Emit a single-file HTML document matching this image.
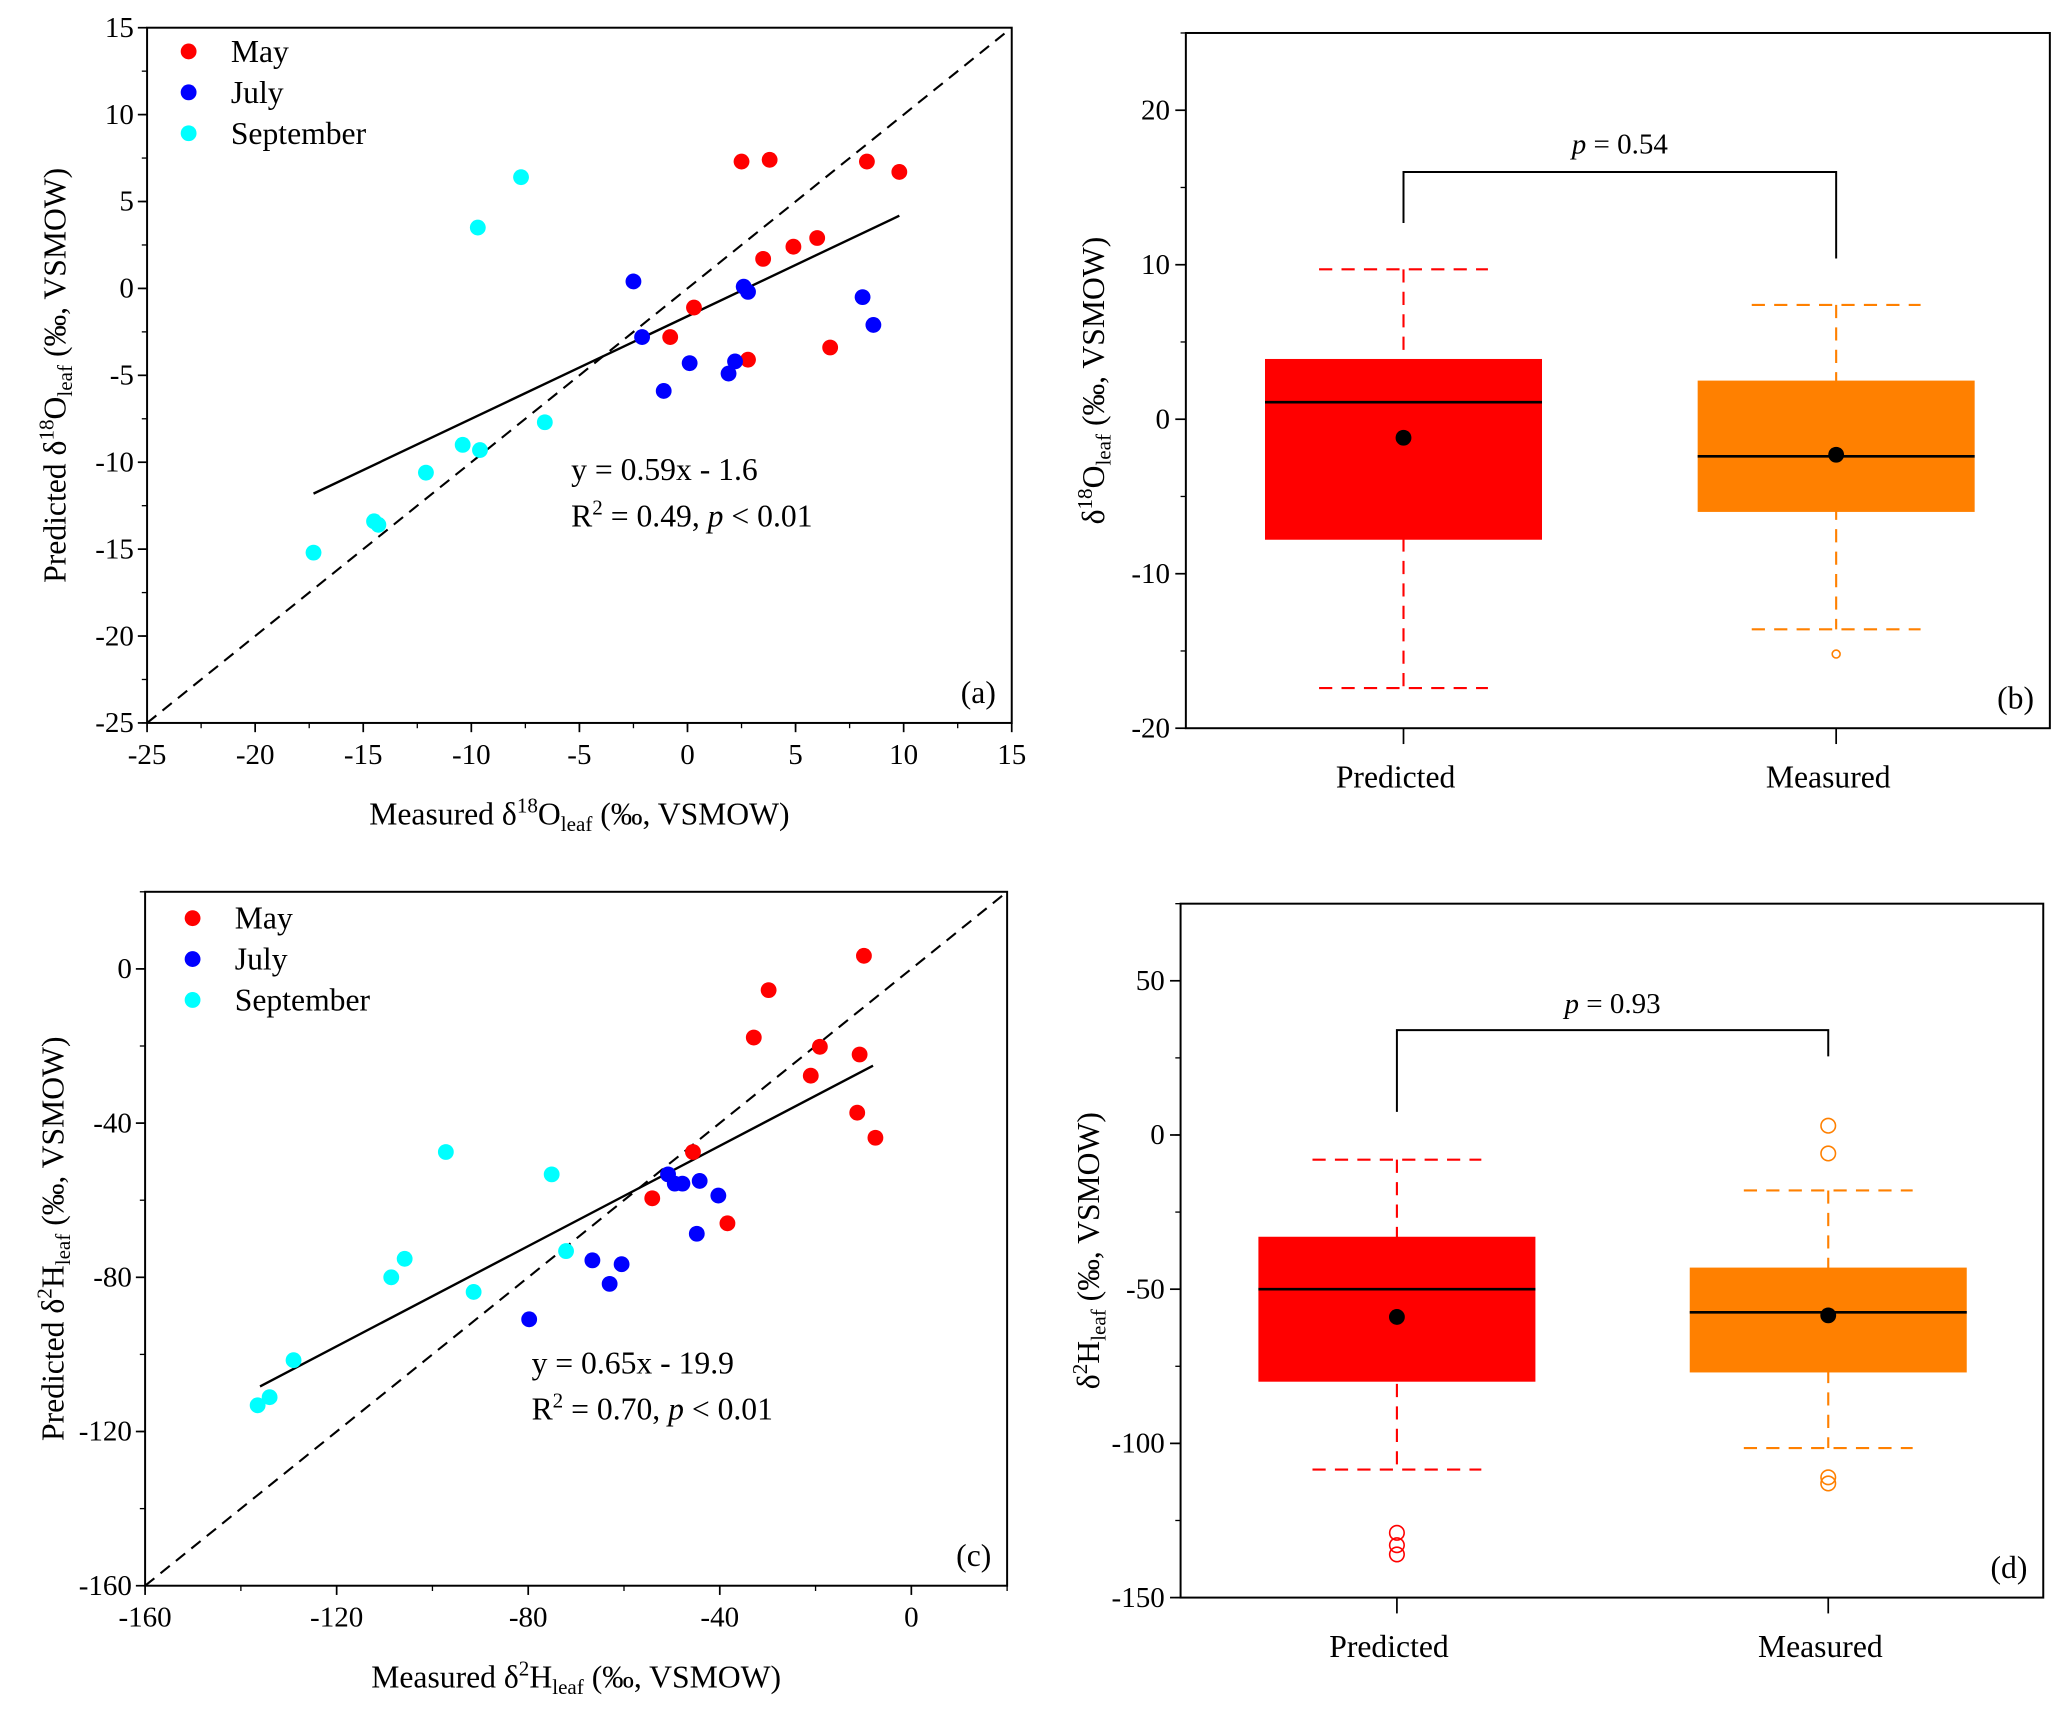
<!DOCTYPE html>
<html><head><meta charset="utf-8"><style>
html,body{margin:0;padding:0;background:#fff;font-family:"Liberation Serif","Times New Roman","DejaVu Serif",serif;}
svg{display:block;}
</style></head><body>
<svg id="fig" width="2067" height="1715" viewBox="0 0 1567 1300" preserveAspectRatio="none" xmlns="http://www.w3.org/2000/svg"></svg>
<script>
// ---- Panel (a) data: d18O measured vs predicted
const aMayX=[2.5,3.8,8.3,9.8,3.5,4.9,6.0,0.3,-0.8,2.8,6.6];
const aMayY=[7.3,7.4,7.3,6.7,1.7,2.4,2.9,-1.1,-2.8,-4.1,-3.4];
const aJulX=[-2.5,2.6,2.8,-2.1,0.1,2.2,1.9,-1.1,8.1,8.6];
const aJulY=[0.4,0.1,-0.2,-2.8,-4.3,-4.2,-4.9,-5.9,-0.5,-2.1];
const aSepX=[-7.7,-9.7,-6.6,-10.4,-9.6,-12.1,-14.5,-14.3,-17.3];
const aSepY=[6.4,3.5,-7.7,-9.0,-9.3,-10.6,-13.4,-13.6,-15.2];
const aFit=[0.59,-1.6]; const aFitRange=[-17.3,9.8];
const aXTicks=[-25,-20,-15,-10,-5,0,5,10,15];
const aYTicks=[-25,-20,-15,-10,-5,0,5,10,15];
// ---- Panel (c) data: d2H
const cMayX=[-9.9,-29.8,-32.9,-19.1,-10.8,-21,-11.3,-7.5,-45.6,-54.1,-38.4];
const cMayY=[3.4,-5.5,-17.8,-20.2,-22.2,-27.7,-37.3,-43.8,-47.5,-59.5,-66];
const cJulX=[-50.8,-49.4,-47.8,-44.2,-40.3,-44.8,-66.6,-60.5,-63,-79.8];
const cJulY=[-53.3,-55.7,-55.7,-55,-58.8,-68.7,-75.6,-76.6,-81.7,-90.9];
const cSepX=[-97.2,-75.1,-72.1,-105.8,-108.6,-91.4,-129,-134,-136.5];
const cSepY=[-47.5,-53.3,-73.2,-75.2,-80,-83.8,-101.5,-111.1,-113.2];
const cFit=[0.65,-19.9]; const cFitRange=[-136,-8];
const cXTicks=[-160,-120,-80,-40,0];
const cYTicks=[-160,-120,-80,-40,0];
// ---- Box stats [whiskerHigh, q3, median, q1, whiskerLow, mean]
const bCats=["Predicted","Measured"];
const bPred=[9.7,3.9,1.1,-7.8,-17.4,-1.2];
const bMeas=[7.4,2.5,-2.4,-6.0,-13.6,-2.3];
const bPredOut=[]; const bMeasOut=[-15.2];
const bYTicks=[-20,-10,0,10,20];
const dPred=[-8,-33,-50,-80,-108.5,-59];
const dMeas=[-18,-43,-57.5,-77,-101.5,-58.5];
const dPredOut=[-129,-133,-136]; const dMeasOut=[3,-6,-111,-113];
const dYTicks=[-150,-100,-50,0,50];

const svg=document.getElementById('fig');
const NS="http://www.w3.org/2000/svg";
const FONT="'Liberation Serif','Times New Roman','DejaVu Serif',serif";
function el(tag,attrs,parent){const e=document.createElementNS(NS,tag);for(const k in attrs)e.setAttribute(k,attrs[k]);if(tag==='text')e.style.fontFamily=FONT;(parent||svg).appendChild(e);return e;}
function lin(d0,d1,r0,r1){return v=>r0+(v-d0)*(r1-r0)/(d1-d0);}
const TF=22, LF=24;

function frame(g,L,R,T,B){
  const r=el('rect',{x:L,y:T,width:R-L,height:B-T,fill:'none',stroke:'#000','stroke-width':1.5},g);
  
  
}

function scatterPanel(name,L,R,T,B,xd,yd,xt,yt,minorX,minorY,series,fit,fr,letter,eqPos,xTitle,yTitle,legPos){
  const g=el('g',{});
  
  
  const sx=lin(xd[0],xd[1],L,R), sy=lin(yd[0],yd[1],B,T);
  frame(g,L,R,T,B);
  xt.forEach(v=>{const x=sx(v);el('line',{x1:x,x2:x,y1:B,y2:B+7,stroke:'#000','stroke-width':1.3},g);
    const t=el('text',{x:x,y:B+31,'text-anchor':'middle','font-size':TF},g);t.textContent=v;
    });
  for(let v=xd[0];v<=xd[1];v+=minorX){const x=sx(v);el('line',{x1:x,x2:x,y1:B,y2:B+4,stroke:'#000','stroke-width':1},g);}
  yt.forEach(v=>{const y=sy(v);el('line',{x1:L-7,x2:L,y1:y,y2:y,stroke:'#000','stroke-width':1.3},g);
    const t=el('text',{x:L-10,y:y+7,'text-anchor':'end','font-size':TF},g);t.textContent=v;
    });
  for(let v=yd[0];v<=yd[1];v+=minorY){const y=sy(v);el('line',{x1:L-4,x2:L,y1:y,y2:y,stroke:'#000','stroke-width':1},g);}
  const d=el('line',{x1:sx(xd[0]),y1:sy(xd[0]),x2:sx(xd[1]),y2:sy(xd[1]),stroke:'#000','stroke-width':1.6,'stroke-dasharray':'9,6'},g);
  
  const f=el('line',{x1:sx(fr[0]),y1:sy(fit[0]*fr[0]+fit[1]),x2:sx(fr[1]),y2:sy(fit[0]*fr[1]+fit[1]),stroke:'#000','stroke-width':1.8},g);
  
  series.forEach(s=>{s.x.forEach((xv,i)=>{const c=el('circle',{cx:sx(xv),cy:sy(s.y[i]),r:6,fill:s.c},g);
    });});
  series.forEach((s,i)=>{const y=legPos[1]+i*31;
    const c=el('circle',{cx:legPos[0],cy:y,r:6,fill:s.c},g);
    
    const t=el('text',{x:legPos[0]+32,y:y+8,'font-size':LF},g);t.textContent=s.n;
    });
  const e1=el('text',{x:eqPos[0],y:eqPos[1],'font-size':LF},g);
  e1.textContent=`y = ${fit[0]}x - ${Math.abs(fit[1])}`;
  
  const e2=el('text',{x:eqPos[0],y:eqPos[1]+35,'font-size':LF},g);
  e2.innerHTML=eqPos[2];
  
  const pl=el('text',{x:R-12,y:B-15,'text-anchor':'end','font-size':LF},g);pl.textContent=letter;
  
  const xtl=el('text',{x:(L+R)/2,y:B+77,'text-anchor':'middle','font-size':LF},g);
  xtl.innerHTML=xTitle;
  const ytl=el('text',{x:0,y:0,transform:`translate(${L-62},${(T+B)/2}) rotate(-90)`,'text-anchor':'middle','font-size':LF},g);
  ytl.innerHTML=yTitle;
}

function boxPanel(name,L,R,T,B,yd,yt,minorY,cx,stats,outs,colors,brk,pPos,pText,letter,yTitle){
  const g=el('g',{});
  
  
  const sy=lin(yd[0],yd[1],B,T);
  frame(g,L,R,T,B);
  yt.forEach(v=>{const y=sy(v);el('line',{x1:L-8,x2:L,y1:y,y2:y,stroke:'#000','stroke-width':1.3},g);
    const t=el('text',{x:L-12,y:y+7,'text-anchor':'end','font-size':TF},g);t.textContent=v;
    });
  for(let v=yd[0];v<=yd[1]+1e-9;v+=minorY){const y=sy(v);el('line',{x1:L-4,x2:L,y1:y,y2:y,stroke:'#000','stroke-width':1},g);}
  stats.forEach((s,i)=>{const x=cx[i],col=colors[i];
    el('line',{x1:x,x2:x,y1:B,y2:B+12,stroke:'#000','stroke-width':1.3},g);
    const cl=el('text',{x:x-6,y:B+45,'text-anchor':'middle','font-size':LF},g);cl.textContent=bCats[i];
    
    const w=el('line',{x1:x,x2:x,y1:sy(s[0]),y2:sy(s[4]),stroke:col,'stroke-width':1.6,'stroke-dasharray':'10,7'},g);
    
    [s[0],s[4]].forEach(v=>{const c=el('line',{x1:x-64,x2:x+64,y1:sy(v),y2:sy(v),stroke:col,'stroke-width':1.6,'stroke-dasharray':'10,7'},g);
      });
    const b=el('rect',{x:x-105,y:sy(s[1]),width:210,height:sy(s[3])-sy(s[1]),fill:col},g);
    
    const m=el('line',{x1:x-105,x2:x+105,y1:sy(s[2]),y2:sy(s[2]),stroke:'#000','stroke-width':2},g);
    
    const mn=el('circle',{cx:x,cy:sy(s[5]),r:6,fill:'#000'},g);
    
    outs[i].forEach(v=>{const o=el('circle',{cx:x,cy:sy(v),r:outs[i].length==1?3:5.5,fill:'none',stroke:col,'stroke-width':1.2},g);
      });
  });
  const br=el('polyline',{points:`${cx[0]},${sy(brk[1])} ${cx[0]},${sy(brk[0])} ${cx[1]},${sy(brk[0])} ${cx[1]},${sy(brk[2])}`,fill:'none',stroke:'#000','stroke-width':1.5},g);
  
  const pt=el('text',{x:(cx[0]+cx[1])/2,y:sy(pPos),'text-anchor':'middle','font-size':TF},g);
  pt.innerHTML=`<tspan font-style="italic">p</tspan> = ${pText}`;
  
  const pl=el('text',{x:R-12,y:B-15,'text-anchor':'end','font-size':LF},g);pl.textContent=letter;
  
  const ytl=el('text',{x:0,y:0,transform:`translate(${L-62},${(T+B)/2}) rotate(-90)`,'text-anchor':'middle','font-size':LF},g);
  ytl.innerHTML=yTitle;
}

const O18=`δ<tspan font-size="16" dy="-9">18</tspan><tspan dy="9">O</tspan><tspan font-size="16" dy="5">leaf</tspan><tspan dy="-5"> (‰, VSMOW)</tspan>`;
const H2=`δ<tspan font-size="16" dy="-9">2</tspan><tspan dy="9">H</tspan><tspan font-size="16" dy="5">leaf</tspan><tspan dy="-5"> (‰, VSMOW)</tspan>`;
const R2=(v)=>`R<tspan font-size="16" dy="-9">2</tspan><tspan dy="9"> = ${v}, </tspan><tspan font-style="italic">p</tspan> &lt; 0.01`;

scatterPanel('panel-a-scatter',111.5,767,21,548,[-25,15],[-25,15],aXTicks,aYTicks,2.5,2.5,
  [{n:'May',c:'#ff0000',x:aMayX,y:aMayY},{n:'July',c:'#0000ff',x:aJulX,y:aJulY},{n:'September',c:'#00ffff',x:aSepX,y:aSepY}],
  aFit,aFitRange,'(a)',[433,364,R2('0.49')],'Measured '+O18,'Predicted '+O18,[143,39]);
scatterPanel('panel-c-scatter',110,763.5,676,1202,[-160,20],[-160,20],cXTicks,cYTicks,20,20,
  [{n:'May',c:'#ff0000',x:cMayX,y:cMayY},{n:'July',c:'#0000ff',x:cJulX,y:cJulY},{n:'September',c:'#00ffff',x:cSepX,y:cSepY}],
  cFit,cFitRange,'(c)',[403,1041,R2('0.70')],'Measured '+H2,'Predicted '+H2,[146,696]);
boxPanel('panel-b-box',899,1554,25,552,[-20,25],bYTicks,5,[1064,1392],[bPred,bMeas],[bPredOut,bMeasOut],['#ff0000','#ff8000'],
  [16,12.7,10.4],17.2,'0.54','(b)',O18);
boxPanel('panel-d-box',895,1549,685,1211,[-150,75],dYTicks,25,[1059,1386],[dPred,dMeas],[dPredOut,dMeasOut],['#ff0000','#ff8000'],
  [34,7.5,25.5],39.5,'0.93','(d)',H2);
</script>
</body></html>
